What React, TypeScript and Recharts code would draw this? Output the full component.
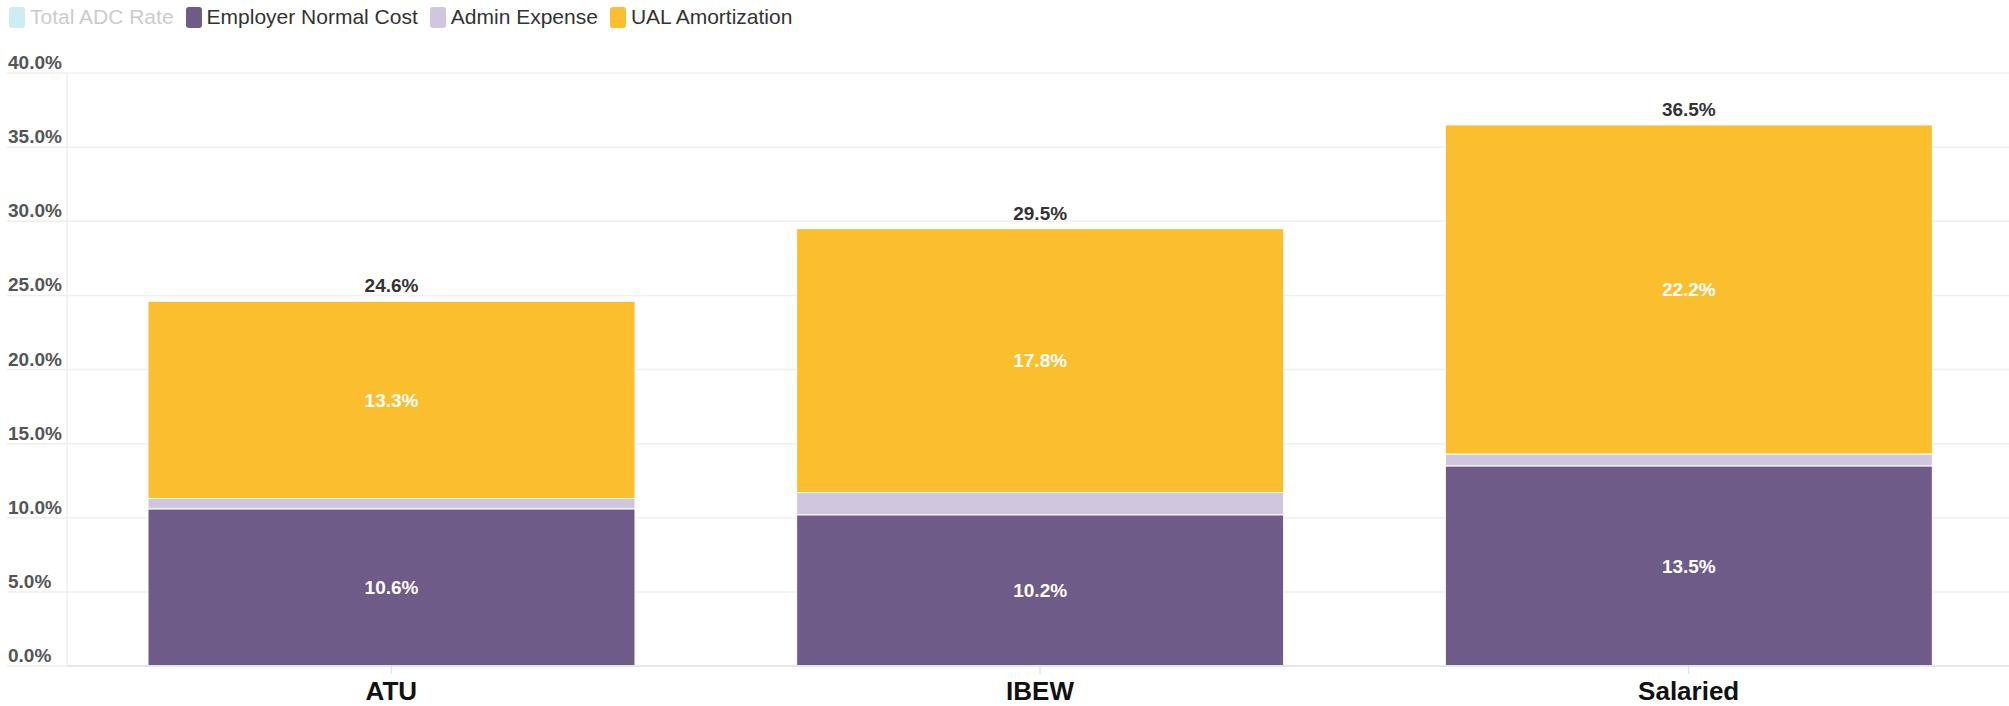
import React from 'react';
import { BarChart, Bar, XAxis, YAxis, CartesianGrid, LabelList } from 'recharts';

const categories = ['ATU', 'IBEW', 'Salaried'];
const employerNormalCost = [10.6, 10.2, 13.5];
const adminExpense = [0.7, 1.5, 0.8];
const ualAmortization = [13.3, 17.8, 22.2];
const totalAdcRate = [24.6, 29.5, 36.5];
const yTicks = [0, 5, 10, 15, 20, 25, 30, 35, 40];

const seriesNames = ['Total ADC Rate', 'Employer Normal Cost', 'Admin Expense', 'UAL Amortization'];
const seriesColors = ['#CDEDF0', '#6E5B87', '#D0C6DD', '#FBBE2E'];
const hiddenSeries = [true, false, false, false];

const data = categories.map((c, i) => ({
  name: c,
  total: totalAdcRate[i],
  enc: employerNormalCost[i],
  admin: adminExpense[i],
  ual: ualAmortization[i],
}));

const FONT = '"Liberation Sans", Arial, Helvetica, sans-serif';
const pct = (v: any) => `${Number(v).toFixed(1)}%`;

const YTick = (props: any) => {
  const { y, payload } = props;
  return (
    <text x={8} y={y - 4} textAnchor="start" fontFamily={FONT} fontWeight="bold" fontSize={19} fill="#555">
      {pct(payload.value)}
    </text>
  );
};

const XTick = (props: any) => {
  const { x, payload } = props;
  return (
    <text x={x} y={700} textAnchor="middle" fontFamily={FONT} fontWeight="bold" fontSize={26} fill="#111">
      {payload.value}
    </text>
  );
};

const LegendBox = () => (
  <div
    style={{
      position: 'absolute',
      left: 9,
      top: 6,
      display: 'flex',
      alignItems: 'center',
      fontFamily: FONT,
      fontSize: 21,
      lineHeight: '22px',
      whiteSpace: 'nowrap',
    }}
  >
    {seriesNames.map((n, i) => (
      <div key={n} style={{ display: 'flex', alignItems: 'center', marginRight: 12 }}>
        <div
          style={{
            width: 16,
            height: 21,
            borderRadius: 3,
            background: seriesColors[i],
            marginRight: 5,
          }}
        />
        <span style={{ color: hiddenSeries[i] ? '#cccccc' : '#333333' }}>{n}</span>
      </div>
    ))}
  </div>
);

export default function App() {
  return (
    <div style={{ position: 'absolute', left: 0, top: 0, width: 2009, height: 706, overflow: 'hidden', background: '#fff' }}>
      <BarChart
        width={2013}
        height={706}
        data={data}
        margin={{ top: 73, right: 0, bottom: 0, left: 7 }}
        barSize={487}
      >
        <CartesianGrid horizontal vertical={false} stroke="#f0f0f0" strokeWidth={1.5} />
        <YAxis
          width={60}
          domain={[0, 40]}
          ticks={yTicks}
          interval={0}
          axisLine={{ stroke: '#eeeeee', strokeWidth: 1.5 }}
          tickLine={{ stroke: '#eeeeee', strokeWidth: 1.5 }}
          tickSize={60}
          tick={<YTick />}
        />
        <XAxis
          dataKey="name"
          height={40}
          axisLine={{ stroke: '#e6e6e6', strokeWidth: 2 }}
          tickLine={{ stroke: '#e6e6e6', strokeWidth: 1.5 }}
          tickSize={8}
          tick={<XTick />}
        />
        <Bar dataKey="enc" name={seriesNames[1]} stackId="a" fill={seriesColors[1]} stroke="#fff" strokeWidth={1} isAnimationActive={false}>
          <LabelList dataKey="enc" position="center" formatter={pct} fill="#fff" fontFamily={FONT} fontWeight="bold" fontSize={19} />
        </Bar>
        <Bar dataKey="admin" name={seriesNames[2]} stackId="a" fill={seriesColors[2]} stroke="#fff" strokeWidth={1} isAnimationActive={false} />
        <Bar dataKey="ual" name={seriesNames[3]} stackId="a" fill={seriesColors[3]} stroke="#fff" strokeWidth={1} isAnimationActive={false}>
          <LabelList dataKey="ual" position="center" formatter={pct} fill="#fff" fontFamily={FONT} fontWeight="bold" fontSize={19} />
          <LabelList dataKey="total" position="top" offset={9} formatter={pct} fill="#333" fontFamily={FONT} fontWeight="bold" fontSize={19} />
        </Bar>
      </BarChart>
      <LegendBox />
    </div>
  );
}
